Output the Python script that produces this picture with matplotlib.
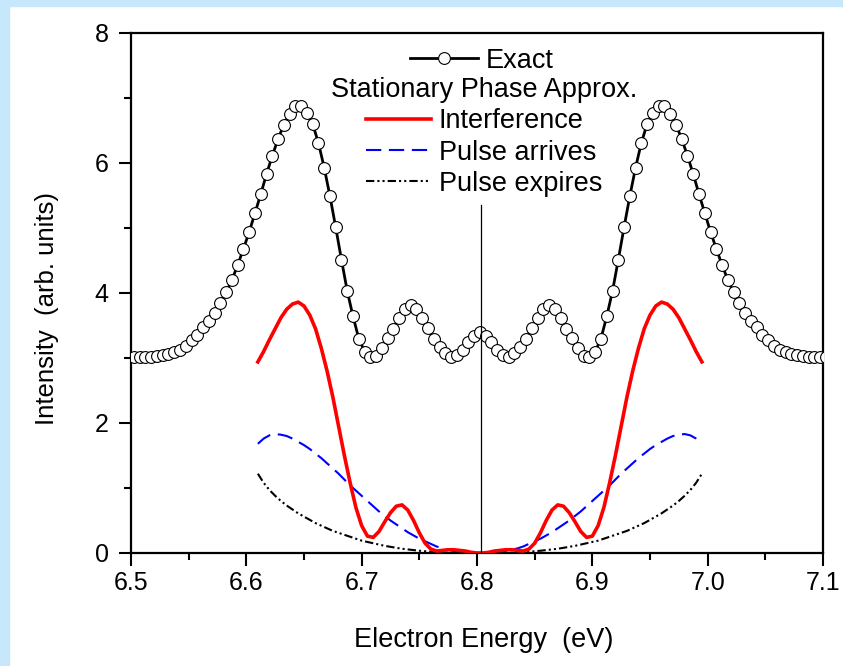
import matplotlib
matplotlib.use("Agg")
import matplotlib.pyplot as plt
from matplotlib.patches import Rectangle
from matplotlib.ticker import MultipleLocator
import numpy as np

plt.rcParams['font.family'] = ['Liberation Sans', 'DejaVu Sans']
plt.rcParams['lines.scale_dashes'] = False

# Exact calculation, sampled every 0.005 eV starting at 6.5025 eV
e_start = 6.5025
e_step = 0.005
i_exact = [3.01, 3.01, 3.02, 3.02, 3.03, 3.04, 3.06, 3.09, 3.13, 3.19,
           3.27, 3.36, 3.47, 3.57, 3.69, 3.84, 4.01, 4.20, 4.43, 4.68,
           4.94, 5.23, 5.52, 5.83, 6.11, 6.37, 6.59, 6.76, 6.87, 6.87,
           6.77, 6.60, 6.31, 5.93, 5.49, 5.01, 4.51, 4.03, 3.64, 3.30,
           3.10, 3.01, 3.03, 3.15, 3.31, 3.45, 3.62, 3.76, 3.82, 3.75,
           3.61, 3.46, 3.30, 3.17, 3.07, 3.02, 3.04, 3.13, 3.24, 3.34,
           3.40,
           3.34, 3.24, 3.13, 3.04, 3.02, 3.07, 3.17, 3.30, 3.46, 3.61,
           3.75, 3.82, 3.76, 3.62, 3.45, 3.31, 3.15, 3.03, 3.01, 3.10,
           3.30, 3.64, 4.03, 4.51, 5.01, 5.49, 5.93, 6.31, 6.60, 6.77,
           6.87, 6.87, 6.76, 6.59, 6.37, 6.11, 5.83, 5.52, 5.23, 4.94,
           4.68, 4.43, 4.20, 4.01, 3.84, 3.69, 3.57, 3.47, 3.36, 3.27,
           3.19, 3.13, 3.09, 3.06, 3.04, 3.03, 3.02, 3.02, 3.01, 3.01]

# Stationary phase approximation, 6.61 .. 6.995 eV every 0.005 eV
spa_start = 6.61
spa_step = 0.005
i_interf = [2.94, 3.10, 3.28, 3.45, 3.62, 3.75, 3.83, 3.86, 3.80, 3.66,
            3.45, 3.15, 2.80, 2.40, 1.95, 1.50, 1.08, 0.70, 0.42, 0.26,
            0.24, 0.33, 0.48, 0.62, 0.72, 0.74, 0.66, 0.50, 0.31, 0.15,
            0.06, 0.03, 0.04, 0.05, 0.05, 0.04, 0.03, 0.01, 0.00,
            0.00, 0.01, 0.03, 0.04, 0.05, 0.05, 0.04, 0.03, 0.06, 0.15,
            0.31, 0.50, 0.66, 0.74, 0.72, 0.62, 0.48, 0.33, 0.24, 0.26,
            0.42, 0.70, 1.08, 1.50, 1.95, 2.40, 2.80, 3.15, 3.45, 3.66,
            3.80, 3.86, 3.83, 3.75, 3.62, 3.45, 3.28, 3.10, 2.94]
i_arrive = [1.68, 1.76, 1.81, 1.83, 1.82, 1.80, 1.76, 1.71, 1.66, 1.60,
            1.53, 1.46, 1.38, 1.30, 1.22, 1.13, 1.04, 0.96, 0.88, 0.80,
            0.72, 0.64, 0.57, 0.50, 0.44, 0.38, 0.32, 0.27, 0.22, 0.18,
            0.14, 0.10, 0.07, 0.05, 0.03, 0.02, 0.01, 0.00, 0.00,
            0.00, 0.00, 0.01, 0.02, 0.03, 0.05, 0.07, 0.10, 0.14, 0.18,
            0.22, 0.27, 0.32, 0.38, 0.44, 0.50, 0.57, 0.64, 0.72, 0.80,
            0.88, 0.96, 1.04, 1.13, 1.22, 1.30, 1.38, 1.46, 1.53, 1.60,
            1.66, 1.71, 1.76, 1.80, 1.82, 1.83, 1.81, 1.76, 1.68]
i_expire = [1.22, 1.08, 0.97, 0.88, 0.80, 0.73, 0.67, 0.61, 0.56, 0.51,
            0.46, 0.42, 0.38, 0.34, 0.31, 0.28, 0.25, 0.22, 0.19, 0.17,
            0.15, 0.13, 0.11, 0.095, 0.08, 0.065, 0.055, 0.045, 0.035, 0.027,
            0.02, 0.014, 0.009, 0.005, 0.003, 0.001, 0.0, 0.0, 0.0,
            0.0, 0.0, 0.0, 0.001, 0.003, 0.005, 0.009, 0.014, 0.02,
            0.027, 0.035, 0.045, 0.055, 0.065, 0.08, 0.095, 0.11, 0.13, 0.15,
            0.17, 0.19, 0.22, 0.25, 0.28, 0.31, 0.34, 0.38, 0.42, 0.46,
            0.51, 0.56, 0.61, 0.67, 0.73, 0.80, 0.88, 0.97, 1.08, 1.22]

# thin vertical marker at the centre energy
center_energy = 6.8035
center_line_top = 5.35

x_ticks = [6.5, 6.6, 6.7, 6.8, 6.9, 7.0, 7.1]
x_ticklabels = ['6.5', '6.6', '6.7', '6.8', '6.9', '7.0', '7.1']
y_ticks = [0, 2, 4, 6, 8]

e_exact = e_start + e_step * np.arange(len(i_exact))
e_spa = spa_start + spa_step * np.arange(len(i_interf))

fig = plt.figure(figsize=(8.43, 6.66), dpi=100)
fig.patch.set_facecolor('white')
bg = '#c6e7fc'
fig.patches.append(Rectangle((0, 0), 9 / 843, 1, transform=fig.transFigure,
                             color=bg, zorder=-1))
fig.patches.append(Rectangle((0, 1 - 6 / 666), 1, 6 / 666, transform=fig.transFigure,
                             color=bg, zorder=-1))

ax = fig.add_axes([131 / 843, 113 / 666, 692 / 843, 520 / 666])

p_exact, = ax.plot(e_exact, i_exact, '-', color='black', lw=2, marker='o', ms=8.5,
                   mfc='white', mec='black', mew=0.8, label='Exact', zorder=3)
p_int, = ax.plot(e_spa, i_interf, color='red', lw=2.6, label='Interference', zorder=4)
p_arr, = ax.plot(e_spa, i_arrive, color='blue', lw=1.5, dashes=(11, 5.5),
                 label='Pulse arrives', zorder=2)
p_exp, = ax.plot(e_spa, i_expire, color='black', lw=1.5,
                 dashes=(6, 2.2, 1.5, 2.2, 1.5, 2.2), label='Pulse expires', zorder=2)
ax.axvline(center_energy, ymin=0, ymax=center_line_top / 8, color='black', lw=0.9, zorder=5)

ax.set_xlim(6.5, 7.1)
ax.set_ylim(0, 8)
ax.set_xticks(x_ticks)
ax.set_xticklabels(x_ticklabels)
ax.set_yticks(y_ticks)
ax.xaxis.set_minor_locator(MultipleLocator(0.05))
ax.yaxis.set_minor_locator(MultipleLocator(1))
ax.tick_params(which='major', direction='out', length=9, width=1.5, labelsize=18)
ax.tick_params(axis='x', which='major', pad=4)
ax.tick_params(axis='y', which='major', pad=7)
ax.tick_params(which='minor', direction='out', length=5, width=1.5)
for sp in ax.spines.values():
    sp.set_linewidth(1.6)

ax.set_xlabel('Electron Energy  (eV)', fontsize=19.5)
ax.set_ylabel('Intensity  (arb. units)', fontsize=18.5)
ax.xaxis.set_label_coords(0.509, -0.142)
ax.yaxis.set_label_coords(-0.104, 0.471)

leg1 = ax.legend(handles=[p_exact], loc='upper center', bbox_to_anchor=(0.507, 0.998),
                 frameon=False, fontsize=19.5, handlelength=2.5, handletextpad=0.3,
                 borderpad=0, numpoints=1)
ax.add_artist(leg1)
ax.legend(handles=[p_int, p_arr, p_exp], title='Stationary Phase Approx.',
          title_fontsize=19.5, loc='upper center', bbox_to_anchor=(0.51, 0.942),
          frameon=False, fontsize=19.5, handlelength=2.4, handletextpad=0.3,
          labelspacing=0.2, borderpad=0)

fig.savefig('out.png', dpi=100)
